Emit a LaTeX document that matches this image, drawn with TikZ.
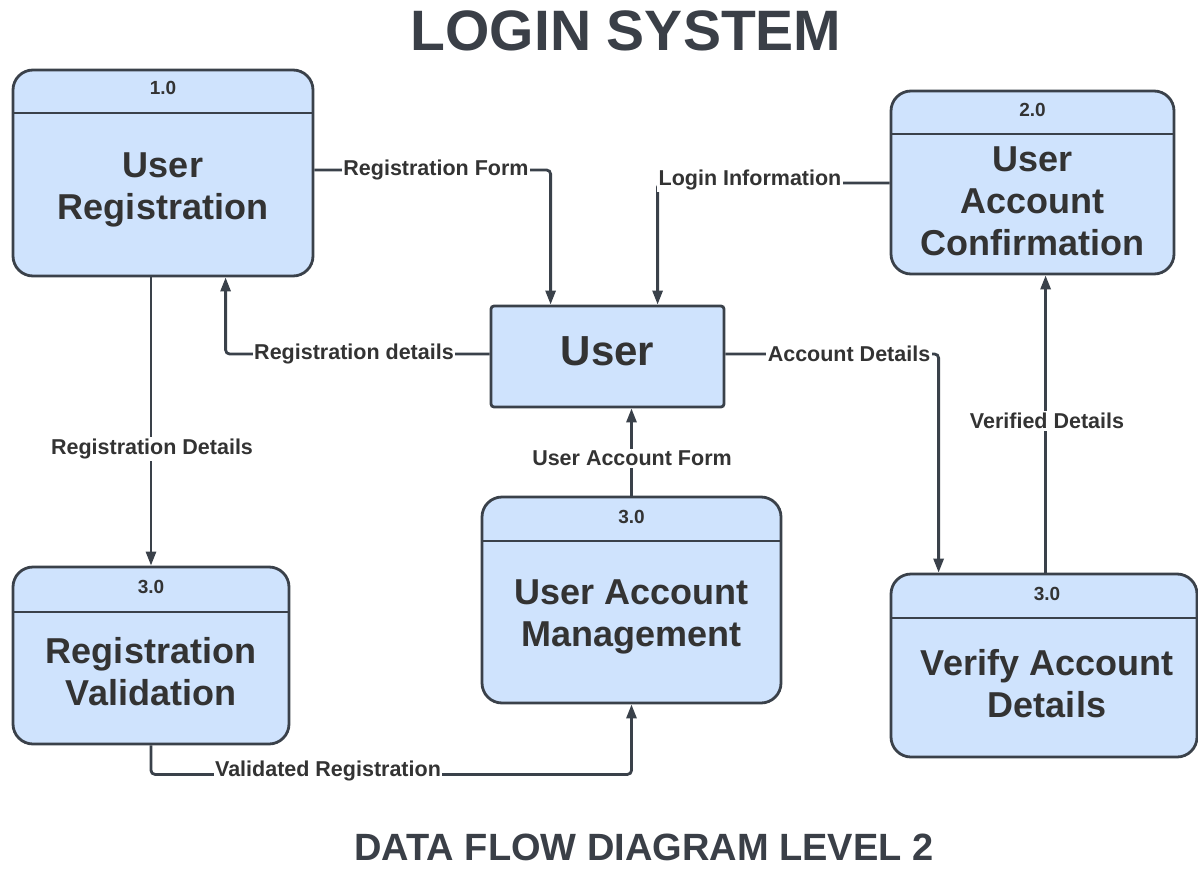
\documentclass[tikz,border=0pt]{standalone}
\usepackage{fontspec}
\setmainfont{Liberation Sans}
\usetikzlibrary{arrows.meta}
\definecolor{boxfill}{HTML}{CFE3FD}
\definecolor{edge}{HTML}{3A414A}
\definecolor{txt}{HTML}{333333}
\definecolor{ttltxt}{HTML}{3A3F47}
\begin{document}
\begin{tikzpicture}[x=1pt,y=-1pt,
  proc/.style={draw=edge,fill=boxfill,line width=2.8pt,rounded corners=20pt,inner sep=0pt},
  ent/.style={draw=edge,fill=boxfill,line width=2.8pt,rounded corners=3pt,inner sep=0pt},
  hdr/.style={draw=edge,line width=2.8pt},
  num/.style={text=txt,font=\fontsize{19}{22}\selectfont\bfseries,inner sep=0pt},
  ttl/.style={text=txt,font=\fontsize{36}{42}\selectfont\bfseries,align=center,inner sep=0pt},
  lbl/.style={text=txt,font=\fontsize{21.5}{24}\selectfont\bfseries,fill=white,inner xsep=1.5pt,inner ysep=2pt},
  flow/.style={draw=edge,line width=2.8pt,rounded corners=4pt,-{Triangle[length=14pt,width=10pt]}},
  plain/.style={draw=edge,line width=2.8pt,rounded corners=4pt}]
\useasboundingbox (0,0) rectangle (1198,869);

% titles
\node[text=ttltxt,font=\fontsize{57}{60}\selectfont\bfseries,inner sep=0pt] (title) at (626,31) {LOGIN SYSTEM};
\node[text=ttltxt,font=\fontsize{38}{42}\selectfont\bfseries,inner sep=0pt] (sub) at (644,847) {DATA FLOW DIAGRAM LEVEL 2};

% boxes
\node[proc,minimum width=300pt,minimum height=206pt] (ur) at (163,173) {};
\draw[hdr] (13,113) -- (313,113);
\node[num] (urn) at (163,88) {1.0};
\node[ttl] (urt) at (163,190) {User\\Registration};

\node[proc,minimum width=283pt,minimum height=183pt] (uac) at (1032.5,182.5) {};
\draw[hdr] (891,134) -- (1174,134);
\node[num] (uacn) at (1032.5,110) {2.0};
\node[ttl] (uact) at (1032.5,201) {User\\Account\\Confirmation};

\node[ent,minimum width=233pt,minimum height=101pt] (user) at (607.5,356.5) {};
\node[text=txt,font=\fontsize{42}{46}\selectfont\bfseries,inner sep=0pt] (usert) at (607.5,351) {User};

\node[proc,minimum width=276pt,minimum height=177pt] (rv) at (151,655.5) {};
\draw[hdr] (13,612) -- (289,612);
\node[num] (rvn) at (151,587) {3.0};
\node[ttl] (rvt) at (151,672) {Registration\\Validation};

\node[proc,minimum width=299pt,minimum height=206pt] (uam) at (631.5,600) {};
\draw[hdr] (482,541) -- (781,541);
\node[num] (uamn) at (631.5,517) {3.0};
\node[ttl] (uamt) at (631.5,617) {User Account\\Management};

\node[proc,minimum width=306pt,minimum height=183pt] (vad) at (1044,665.5) {};
\draw[hdr] (891,618) -- (1197,618);
\node[num] (vadn) at (1047,594) {3.0};
\node[ttl] (vadt) at (1047,684) {Verify Account\\Details};

% flows
\draw[flow] ([yshift=3pt]ur.east) -| ([xshift=61pt]user.north west);
\node[lbl] (l1) at (436,170) {Registration Form};

\draw[flow] ([yshift=-0.5pt]uac.west) -| ([xshift=168pt]user.north west);
\node[lbl] (l2) at (750,180) {Login Information};

\draw[flow] ([yshift=2.5pt]user.west) -| ([xshift=214pt]ur.south west);
\node[lbl] (l3) at (354,354) {Registration details};

\draw[flow] ([yshift=2.5pt]user.east) -| ([xshift=49pt]vad.north west);
\node[lbl] (l4) at (849,354) {Account Details};

\draw[flow] ([xshift=156pt]vad.north west) -- ([xshift=156pt]uac.south west);
\node[lbl] (l5) at (1047,421) {Verified Details};

\draw[flow] (uam.north) -- (uam.north |- user.south);
\node[lbl] (l6) at (632,458) {User Account Form};

\draw[flow] (rv.north |- ur.south) -- (rv.north);
\node[lbl] (l7) at (152,449) {Registration Details};

\draw[flow] (rv.south) -- ++(0,29) -| (uam.south);
\node[lbl] (l8) at (328,771) {Validated Registration};
\end{tikzpicture}
\end{document}
